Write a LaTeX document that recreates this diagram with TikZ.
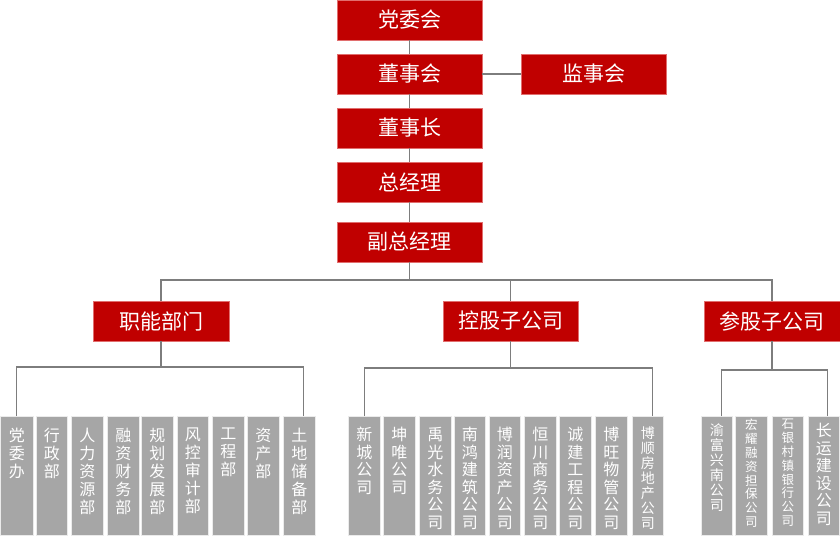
\documentclass[tikz,border=0pt]{standalone}
\usepackage{fontspec}
\setmainfont{Noto Sans CJK SC}
\definecolor{dred}{RGB}{192,0,0}
\definecolor{rborder}{RGB}{225,110,110}
\definecolor{bgray}{RGB}{166,166,166}
\definecolor{lgray}{RGB}{125,125,125}
\tikzset{
  rbox/.style={fill=dred, draw=rborder, line width=0.5pt, text=white, inner sep=0pt,
    minimum height=40pt, font=\fontsize{21}{21}\selectfont},
  gbox/.style={fill=bgray, draw=white!92!black, line width=0.6pt, text=white, inner sep=0pt, anchor=north west},
  conn/.style={draw=lgray, line width=1.3pt}
}
\newcommand{\gb}[6]{\node[gbox] (#1) at (#2,416) {\parbox[t][119pt][t]{#3pt}{\centering\fontsize{#4}{#5}\selectfont\vspace*{#6pt}\gtext}};}
\begin{document}
\begin{tikzpicture}[x=1pt,y=-1pt]
\useasboundingbox (0,0) rectangle (840,537);
% top column
\node[rbox, minimum width=145pt] (dw) at (409.5,20) {党委会};
\node[rbox, minimum width=145pt] (dsh) at (409.5,74) {董事会};
\node[rbox, minimum width=145pt] (jsh) at (593.5,74) {监事会};
\node[rbox, minimum width=145pt] (dsz) at (409.5,128) {董事长};
\node[rbox, minimum width=145pt] (zjl) at (409.5,182) {总经理};
\node[rbox, minimum width=145pt] (fz) at (409.5,242) {副总经理};
% second level
\node[rbox, minimum width=136pt] (zn) at (161,321) {职能部门};
\node[rbox, minimum width=135pt] (kg) at (510.5,321) {控股子公司};
\node[rbox, minimum width=136pt] (cg) at (772,321) {参股子公司};
% group 1
\def\gtext{党\\委\\办}\gb{g1a}{0}{33}{16}{18}{12}
\def\gtext{行\\政\\部}\gb{g1b}{36}{31}{16}{18}{12}
\def\gtext{人\\力\\资\\源\\部}\gb{g1c}{71}{32}{16}{18}{12}
\def\gtext{融\\资\\财\\务\\部}\gb{g1d}{107}{32}{16}{18}{12}
\def\gtext{规\\划\\发\\展\\部}\gb{g1e}{141}{32}{16}{18}{12}
\def\gtext{风\\控\\审\\计\\部}\gb{g1f}{177}{31}{16}{18}{12}
\def\gtext{工\\程\\部}\gb{g1g}{212}{32}{16}{18}{12}
\def\gtext{资\\产\\部}\gb{g1h}{247}{32}{16}{18}{12}
\def\gtext{土\\地\\储\\备\\部}\gb{g1i}{283}{32}{16}{18}{12}
% group 2
\def\gtext{新\\城\\公\\司}\gb{g2a}{348}{32}{16}{17.5}{11}
\def\gtext{坤\\唯\\公\\司}\gb{g2b}{383}{32}{16}{17.5}{11}
\def\gtext{禹\\光\\水\\务\\公\\司}\gb{g2c}{419}{32}{16}{17.5}{11}
\def\gtext{南\\鸿\\建\\筑\\公\\司}\gb{g2d}{454}{31}{16}{17.5}{11}
\def\gtext{博\\润\\资\\产\\公\\司}\gb{g2e}{489}{31}{16}{17.5}{11}
\def\gtext{恒\\川\\商\\务\\公\\司}\gb{g2f}{524}{32}{16}{17.5}{11}
\def\gtext{诚\\建\\工\\程\\公\\司}\gb{g2g}{559}{32}{16}{17.5}{11}
\def\gtext{博\\旺\\物\\管\\公\\司}\gb{g2h}{595}{32}{16}{17.5}{11}
\def\gtext{博\\顺\\房\\地\\产\\公\\司}\gb{g2i}{632}{31}{14}{15}{10}
% group 3
\def\gtext{渝\\富\\兴\\南\\公\\司}\gb{g3a}{701}{31}{14}{15}{7}
\def\gtext{宏\\耀\\融\\资\\担\\保\\公\\司}\gb{g3b}{735}{32}{12.5}{13.8}{3}
\def\gtext{石\\银\\村\\镇\\银\\行\\公\\司}\gb{g3c}{772}{31}{12.5}{13.8}{3}
\def\gtext{长\\运\\建\\设\\公\\司}\gb{g3d}{808}{31}{16}{17.5}{7}
% connectors
\coordinate (bus) at (0,280);
\coordinate (b1) at (0,367);
\coordinate (b2) at (0,368);
\coordinate (b3) at (0,370);
\draw[conn] (dw) -- (dsh);
\draw[conn] (dsh) -- (dsz);
\draw[conn] (dsh) -- (jsh);
\draw[conn] (dsz) -- (zjl);
\draw[conn] (zjl) -- (fz);
\draw[conn] (fz.south) -- (fz.south |- bus);
\draw[conn] (zn.north) |- (cg.north |- bus) -- (cg.north);
\draw[conn] (kg.north) -- (kg.north |- bus);
\draw[conn] (zn.south) -- (zn.south |- b1);
\draw[conn] (g1a.north) |- ([xshift=4pt]g1i.north |- b1) -- ([xshift=4pt]g1i.north);
\draw[conn] (kg.south) -- (kg.south |- b2);
\draw[conn] (g2a.north) |- ([xshift=5pt]g2i.north |- b2) -- ([xshift=5pt]g2i.north);
\draw[conn] (cg.south) -- (cg.south |- b3);
\draw[conn] ([xshift=5pt]g3a.north) |- ([xshift=3.5pt]g3d.north |- b3) -- ([xshift=3.5pt]g3d.north);
\end{tikzpicture}
\end{document}
